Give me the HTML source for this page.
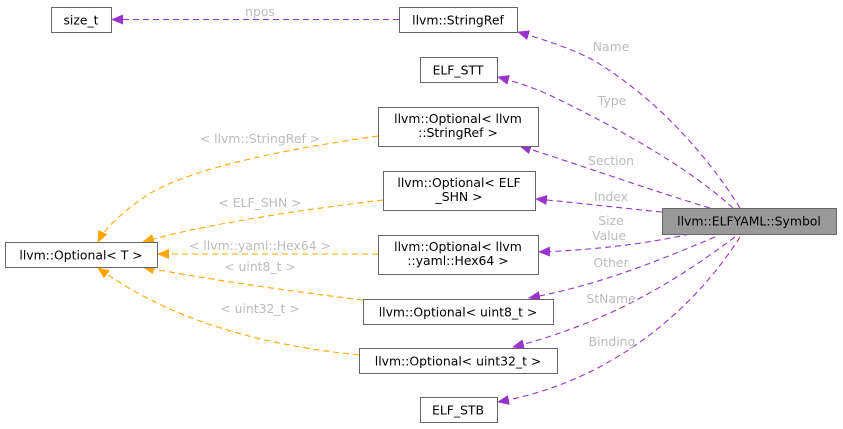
<!DOCTYPE html>
<html><head><meta charset="utf-8"><style>
html,body{margin:0;padding:0;background:#fff;}
svg{display:block;}
text{font-family:"DejaVu Sans","Liberation Sans",sans-serif;font-size:12.4px;}
.n{fill:#000;text-anchor:middle;}
.l{fill:#bbb;text-anchor:middle;}
.p{fill:none;stroke:#9a32cd;stroke-dasharray:6,4;stroke-width:1.1;}
.o{fill:none;stroke:#ffa500;stroke-dasharray:6,4;stroke-width:1.1;}
rect{fill:#fff;stroke:#666;stroke-width:1;}
</style></head><body>
<svg width="843" height="429" viewBox="0 0 843 429" xmlns="http://www.w3.org/2000/svg">
<defs>
<marker id="mp" markerWidth="12" markerHeight="10" refX="11" refY="5" orient="auto" markerUnits="userSpaceOnUse"><path d="M0,0 L12,5 L0,10 Z" fill="#9a32cd"/></marker>
<marker id="mo" markerWidth="12" markerHeight="10" refX="11" refY="5" orient="auto" markerUnits="userSpaceOnUse"><path d="M0,0 L12,5 L0,10 Z" fill="#ffa500"/></marker>
</defs>
<path class="p" d="M399,19.5 L112,19.5" marker-end="url(#mp)"/>
<path class="p" d="M740,208 C710,160 660,100 593,60 C570,48 545,40 518,32" marker-end="url(#mp)"/>
<path class="p" d="M733,208 C680,160 600,120 560,100 C540,90 520,83 498,77" marker-end="url(#mp)"/>
<path class="p" d="M710,208 C650,190 580,165 520,146" marker-end="url(#mp)"/>
<path class="p" d="M662,212 C620,208 580,203 536,199" marker-end="url(#mp)"/>
<path class="p" d="M690,234 C640,245 590,250 539,252" marker-end="url(#mp)"/>
<path class="p" d="M715,237 C660,260 600,285 529,298" marker-end="url(#mp)"/>
<path class="p" d="M735,237 C690,270 620,320 513,347" marker-end="url(#mp)"/>
<path class="p" d="M740,237 C700,300 620,380 498,402" marker-end="url(#mp)"/>
<path class="o" d="M378,136 C280,150 180,170 140,200 C120,215 105,228 98,242" marker-end="url(#mo)"/>
<path class="o" d="M383,200 C300,210 200,225 143,242" marker-end="url(#mo)"/>
<path class="o" d="M378,254 L158,254" marker-end="url(#mo)"/>
<path class="o" d="M363,300 C280,290 200,278 143,267" marker-end="url(#mo)"/>
<path class="o" d="M359,355 C260,345 170,320 98,268" marker-end="url(#mo)"/>
<text class="l" x="260" y="16">npos</text>
<text class="l" x="611" y="51">Name</text>
<text class="l" x="612" y="105">Type</text>
<text class="l" x="611" y="165">Section</text>
<text class="l" x="611" y="201">Index</text>
<text class="l" x="611" y="225">Size</text>
<text class="l" x="609" y="240">Value</text>
<text class="l" x="611" y="267">Other</text>
<text class="l" x="611" y="303">StName</text>
<text class="l" x="612" y="346">Binding</text>
<text class="l" x="260" y="143">&lt; llvm::StringRef &gt;</text>
<text class="l" x="260" y="207">&lt; ELF_SHN &gt;</text>
<text class="l" x="260" y="250">&lt; llvm::yaml::Hex64 &gt;</text>
<text class="l" x="260" y="271">&lt; uint8_t &gt;</text>
<text class="l" x="260" y="313">&lt; uint32_t &gt;</text>
<rect x="51.5" y="7.5" width="60" height="25"/><text class="n" x="81" y="24.5">size_t</text>
<rect x="399.5" y="7.5" width="118" height="25"/><text class="n" x="458" y="24.5">llvm::StringRef</text>
<rect x="420.5" y="57.5" width="77" height="25"/><text class="n" x="458" y="74.5">ELF_STT</text>
<rect x="378.5" y="107.5" width="160" height="39"/><text class="n" x="458" y="123">llvm::Optional&lt; llvm</text><text class="n" x="458" y="137">::StringRef &gt;</text>
<rect x="383.5" y="171.5" width="152" height="39"/><text class="n" x="459" y="187">llvm::Optional&lt; ELF</text><text class="n" x="459" y="201">_SHN &gt;</text>
<rect x="5.5" y="242.5" width="152" height="25"/><text class="n" x="81" y="259.5">llvm::Optional&lt; T &gt;</text>
<rect x="378.5" y="235.5" width="160" height="39"/><text class="n" x="458" y="251">llvm::Optional&lt; llvm</text><text class="n" x="458" y="265">::yaml::Hex64 &gt;</text>
<rect x="363.5" y="299.5" width="190" height="25"/><text class="n" x="458" y="316.5">llvm::Optional&lt; uint8_t &gt;</text>
<rect x="359.5" y="348.5" width="198" height="25"/><text class="n" x="458" y="365.5">llvm::Optional&lt; uint32_t &gt;</text>
<rect x="420.5" y="397.5" width="77" height="25"/><text class="n" x="458" y="414.5">ELF_STB</text>
<rect x="662.5" y="208.5" width="174" height="26" style="fill:#999"/><text class="n" x="749" y="225.5">llvm::ELFYAML::Symbol</text>
</svg>
</body></html>
